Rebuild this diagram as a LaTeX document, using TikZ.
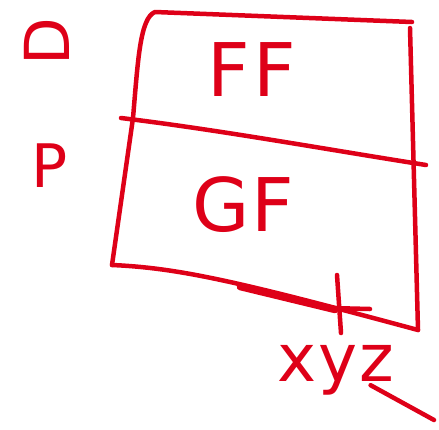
\documentclass[tikz,border=0pt]{standalone}
\usepackage{fontspec}
\setmainfont{DejaVu Sans}
\begin{document}
\definecolor{pen}{RGB}{222,0,24}
\begin{tikzpicture}[x=1pt,y=-1pt,
  stroke/.style={draw=pen,line width=4.5pt,line cap=round,line join=round},
  ink/.style={text=pen,inner sep=0pt,font=\fontsize{#1}{#1}\selectfont},
  ink/.default=62]
\useasboundingbox (0,0) rectangle (439,429);
% box corners
\coordinate (tl) at (155,12);
\coordinate (tr) at (412,22);
\coordinate (br) at (418,330);
\coordinate (bl) at (112,265);
\coordinate (ml) at (121,118);
\coordinate (mr) at (426,165);
% outline
\draw[stroke] (tr) -- (tl) .. controls (140,18) and (138,60) .. (133,118) -- (bl);
\draw[stroke] (410,28) -- (br);
\draw[stroke] (bl) .. controls (180,268) and (240,282) .. (br);
\draw[stroke,line width=6.5pt] (240,287) -- (335,310);
% dividing line
\draw[stroke] (ml) .. controls (220,130) and (330,150) .. (mr);
% tick on the bottom edge
\coordinate (tk1) at (337,275);
\coordinate (tk2) at (341,333);
\coordinate (tk3) at (330,308);
\coordinate (tk4) at (370,309);
\draw[stroke] (tk1) -- (tk2);
\draw[stroke] (tk3) -- (tk4);
% labels
\node[ink,rotate=90] (d) at (47,42) {D};
\node[ink=60] (p) at (50,166) {P};
\node[ink=74] (ff) at (252,70) {F\kern4pt F};
\node[ink=74] (gf) at (243,205) {G\kern2pt F};
\node[ink=66] (xyz) at (336,370) {x\kern2pt y\kern2pt z};
\coordinate (zt) at ([xshift=-24pt,yshift=-4pt]xyz.base east);
\draw[stroke] (zt) -- (434,420);
\end{tikzpicture}
\end{document}
